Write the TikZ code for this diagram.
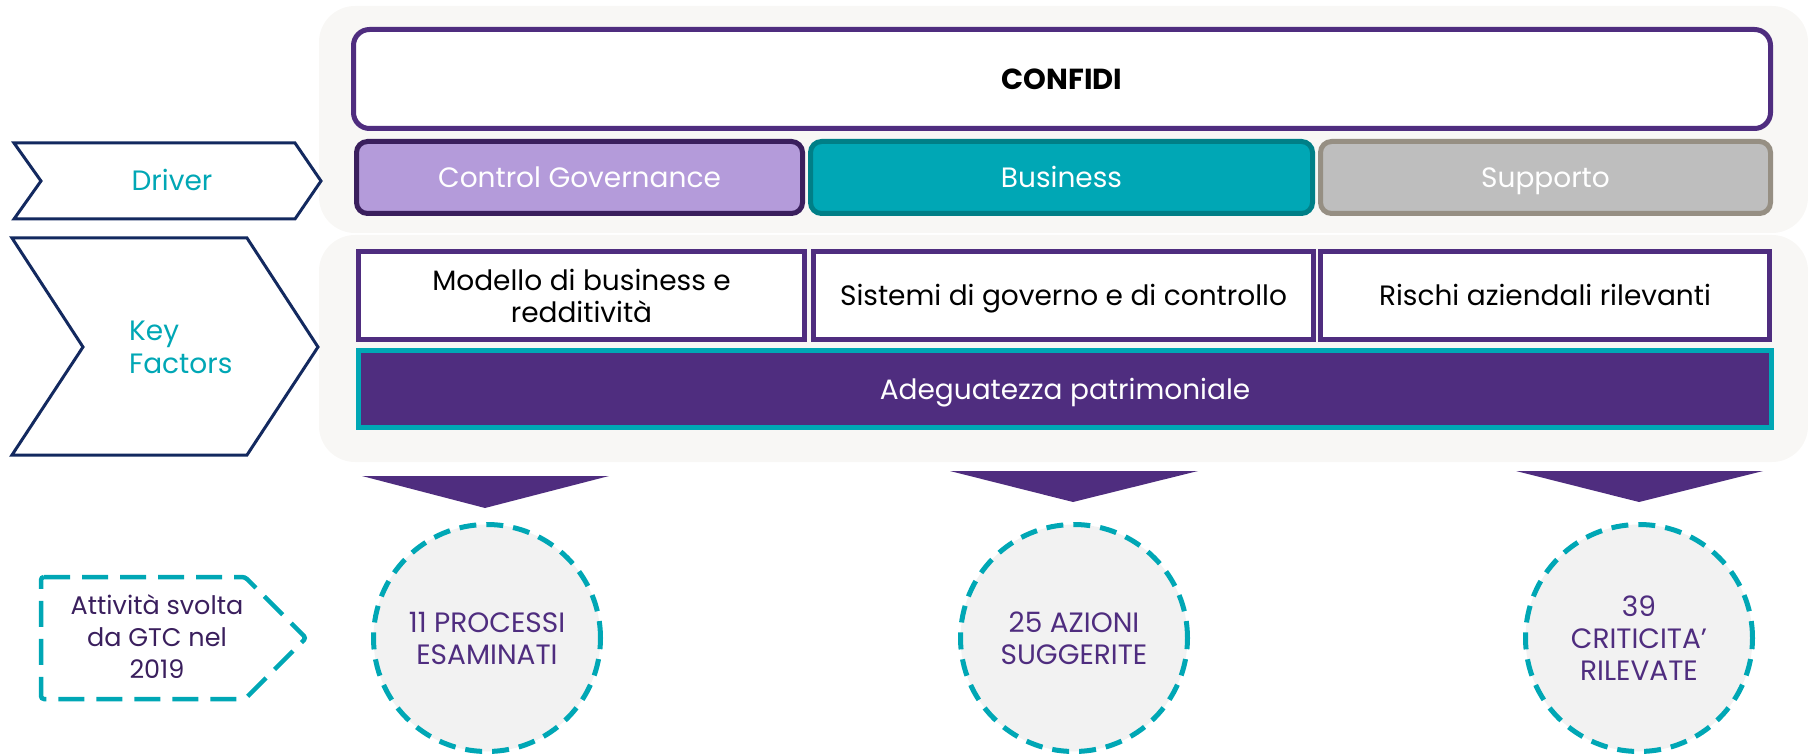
\documentclass[tikz,border=0pt]{standalone}
\usepackage{fontspec}
\setmainfont{Poppins}
\usetikzlibrary{positioning}
\definecolor{gtcpurple}{HTML}{4F2D7F}
\definecolor{gtcdark}{HTML}{3A1F5D}
\definecolor{gtclilac}{HTML}{B49BDA}
\definecolor{gtcteal}{HTML}{00A7B5}
\definecolor{gtctealdk}{HTML}{007F87}
\definecolor{gtcgrey}{HTML}{BEBEBE}
\definecolor{gtcgreydk}{HTML}{968F83}
\definecolor{gtcpanel}{HTML}{F8F7F5}
\definecolor{gtcnavy}{HTML}{13295F}
\definecolor{gtccircle}{HTML}{F2F2F2}
\newcommand{\txtsize}{\fontsize{28}{32}\selectfont}

\tikzset{
  panel/.style={fill=gtcpanel, rounded corners=36pt},
  chevron/.style={draw=gtcnavy, line width=3pt, fill=white, line join=miter},
  drivertext/.style={text=gtcteal, font=\fontsize{28}{33}\selectfont, align=left, inner sep=0pt},
  oneline/.style={text height=20.7pt, text depth=0pt},
  driverbox/.style={draw=#1, line width=5pt, rounded corners=11pt, minimum height=72pt,
    text=white, font=\txtsize, inner sep=0pt, oneline},
  factorbox/.style={draw=gtcpurple, fill=white, line width=5pt, minimum height=88pt,
    font=\txtsize, align=center, inner sep=0pt},
  pointer/.style={fill=gtcpurple},
  result/.style={circle, draw=gtcteal, fill=gtccircle, line width=5pt, minimum size=227pt,
    dash pattern=on 17pt off 10pt, text=gtcpurple, font=\txtsize, align=center, inner sep=0pt},
}

\begin{document}
\begin{tikzpicture}[x=1pt, y=-1pt]
    \useasboundingbox (0,0) rectangle (1808,754);
    %Panels
    \fill[panel] (319,6) rectangle (1808,233);
    \fill[panel] (319,235) rectangle (1808,462);
    %Chevrons
    \draw[chevron] (14,143) -- (295,143) -- (321,181) -- (295,219) -- (14,219) -- (41,181) -- cycle;
    \draw[chevron] (12,238) -- (247,238) -- (318,347) -- (247,455) -- (12,455) -- (83,347) -- cycle;
    \node[drivertext, oneline] (driver) at (172,180) {Driver};
    \node[drivertext, anchor=west] (keyf) at (129,347) {Key\\Factors};
    %Top
    \node[draw=gtcpurple, fill=white, line width=5pt, rounded corners=16pt, minimum width=1417pt,
      minimum height=99pt, font=\fontsize{29}{32}\selectfont\bfseries, oneline] (confidi) at (1062,79) {CONFIDI};
    \node[driverbox=gtcdark, fill=gtclilac, minimum width=446pt] (cg) at (579.5,177.5) {Control Governance};
    \node[driverbox=gtctealdk, fill=gtcteal, minimum width=502pt] (bus) at (1061.5,177.5) {Business};
    \node[driverbox=gtcgreydk, fill=gtcgrey, minimum width=450pt] (sup) at (1545.5,177.5) {Supporto};
    %Key factors
    \node[factorbox, minimum width=446pt] (mod) at (581.5,295.5) {Modello di business e\\redditività};
    \node[factorbox, minimum width=500pt, oneline] (sis) at (1063.5,295.5) {Sistemi di governo e di controllo};
    \node[factorbox, minimum width=449pt, oneline] (ris) at (1545,295.5) {Rischi aziendali rilevanti};
    \node[draw=gtcteal, fill=gtcpurple, line width=5pt, minimum width=1413pt, minimum height=77pt,
      text=white, font=\txtsize, inner sep=0pt, oneline] (adeg) at (1065,389) {Adeguatezza patrimoniale};
    %Activity
    \draw[draw=gtcteal, line width=4.5pt, dash pattern=on 26pt off 12pt, rounded corners=3pt]
      (41,577) -- (245,577) -- (306,638) -- (245,699) -- (41,699) -- cycle;
    \node[text=gtcdark, font=\fontsize{25.5}{32}\selectfont, align=center, inner sep=0pt] (att) at (157,637)
      {Attività svolta\\da GTC nel\\2019};
    \fill[pointer] (362,476) -- (609,476) -- (485,508) -- cycle;
    \fill[pointer] (950,471) -- (1198,471) -- (1073,502) -- cycle;
    \fill[pointer] (1516,471) -- (1763,471) -- (1639,502) -- cycle;
    \node[result] (proc) at (487,638) {11 PROCESSI\\ESAMINATI};
    \node[result] (azio) at (1074,638) {25 AZIONI\\SUGGERITE};
    \node[result] (crit) at (1639,638) {39\\CRITICITA’\\RILEVATE};
\end{tikzpicture}
\end{document}
